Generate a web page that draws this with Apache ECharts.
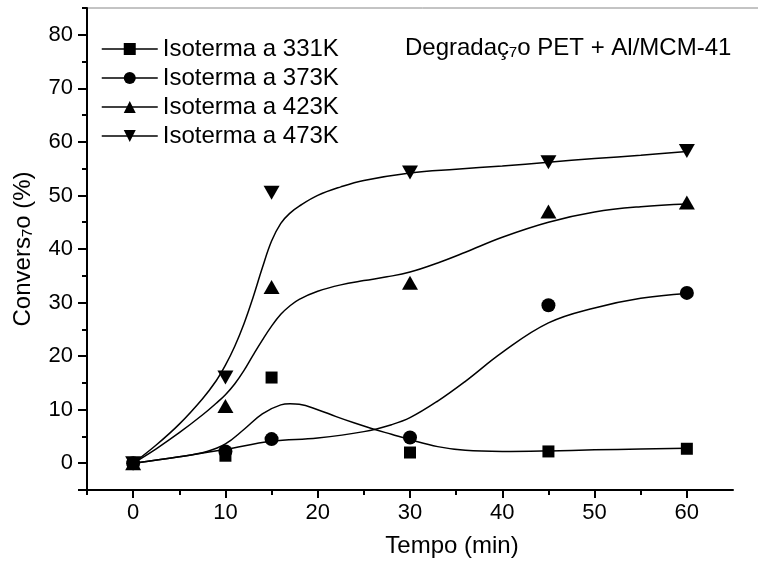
<!DOCTYPE html>
<html>
<head>
<meta charset="utf-8">
<script src="https://cdn.jsdelivr.net/npm/echarts@6/dist/echarts.min.js"></script>
<style>
    html, body { margin: 0; padding: 0; background: #fff; }
    #chart { width: 758px; height: 563px; }
</style>
</head>
<body>
<div id="chart"></div>
<script>
    // medições (marcadores)
    var tempo = [0, 10, 15, 30, 45, 60];
    var iso331 = [0, 1.4, 16, 2.0, 2.2, 2.7];
    var iso373 = [0, 2.2, 4.5, 4.8, 29.5, 31.8];
    var iso423 = [0, 10.7, 32.9, 33.7, 47, 48.7];
    var iso473 = [0, 16, 50.5, 54.3, 56.2, 58.3];

    // curvas ajustadas
    var fitX331 = [0, 5, 8, 10, 12, 14, 16, 17, 18, 20, 22, 24, 26, 28, 30, 33, 36, 40, 45, 50, 55, 60];
    var fitY331 = [0, 1.2, 2.2, 3.6, 6.3, 9.2, 10.9, 11.1, 11.0, 10.0, 8.7, 7.5, 6.4, 5.4, 4.4, 3.1, 2.4, 2.2, 2.3, 2.5, 2.65, 2.8];
    var fitX373 = [0, 5, 10, 15, 20, 25, 28, 30, 33, 36, 40, 45, 50, 55, 60];
    var fitY373 = [0, 1.2, 2.6, 4.1, 4.7, 5.9, 7.2, 8.5, 11.6, 15.3, 20.7, 26.2, 29.0, 30.8, 31.7];
    var fitX423 = [0, 2.5, 5, 7.5, 9, 10, 11, 12, 13, 14, 15, 16, 17, 18, 20, 22.5, 25, 27.5, 30, 33, 36, 40, 45, 50, 55, 60];
    var fitY423 = [0, 2.7, 5.7, 9.0, 11.2, 12.8, 14.8, 17.3, 20.2, 23.0, 25.6, 27.8, 29.4, 30.6, 32.1, 33.3, 34.1, 34.8, 35.7, 37.4, 39.4, 42.2, 45.0, 46.9, 47.9, 48.4];
    var fitX473 = [0, 2.5, 5, 7.5, 9, 10, 11, 12, 13, 14, 15, 16, 17, 18, 20, 22.5, 25, 30, 35, 40, 45, 50, 55, 60];
    var fitY473 = [0, 3.4, 7.3, 12.0, 15.4, 18.3, 21.8, 26.0, 31.0, 36.5, 41.5, 44.8, 46.7, 48.0, 50.0, 51.6, 52.8, 54.2, 54.9, 55.5, 56.2, 56.9, 57.5, 58.2];

    // eixos
    var xLabelTicks = [0, 10, 20, 30, 40, 50, 60];
    var xMinorTicks = [-5, 5, 15, 25, 35, 45, 55];
    var yLabelTicks = [-5, 0, 10, 20, 30, 40, 50, 60, 70, 80];
    var yMinorTicks = [5, 15, 25, 35, 45, 55, 65, 75, 85];

    var nomes = ['Isoterma a 331K', 'Isoterma a 373K', 'Isoterma a 423K', 'Isoterma a 473K'];
    var simbolos = ['rect', 'circle', 'triangle', 'triangle'];
    var rotacoes = [0, 0, 0, 180];
    var tamanhos = [12, 14, [16, 14], [16, 14]];

    function pares(xs, ys) {
        return xs.map(function (x, i) { return [x, ys[i]]; });
    }

    var pontos = [iso331, iso373, iso423, iso473];
    var ajustes = [pares(fitX331, fitY331), pares(fitX373, fitY373), pares(fitX423, fitY423), pares(fitX473, fitY473)];

    var series = [];
    nomes.forEach(function (nome, i) {
        series.push({
            name: nome,
            type: 'line',
            data: ajustes[i],
            smooth: 0.4,
            showSymbol: false,
            symbol: simbolos[i],
            symbolRotate: rotacoes[i],
            lineStyle: {color: '#000', width: 1.5},
            itemStyle: {color: '#000'},
            z: 2
        });
    });
    nomes.forEach(function (nome, i) {
        series.push({
            name: nome,
            type: 'scatter',
            data: pares(tempo, pontos[i]),
            symbol: simbolos[i],
            symbolRotate: rotacoes[i],
            symbolSize: tamanhos[i],
            itemStyle: {color: '#000', opacity: 1},
            z: 3
        });
    });

    var fonte = 'Liberation Sans, Arial, sans-serif';
    var linhaEixo = {show: true, onZero: false, lineStyle: {color: '#000', width: 2}};

    var chart = echarts.init(document.getElementById('chart'));
    chart.setOption({
        animation: false,
        textStyle: {fontFamily: fonte, color: '#000'},
        title: {
            text: 'Degradaç₇o PET + Al/MCM-41',
            left: 400,
            top: 31,
            textStyle: {fontFamily: fonte, fontSize: 24, fontWeight: 'normal', color: '#000'}
        },
        legend: {
            orient: 'vertical',
            left: 96,
            top: 32,
            itemWidth: 56,
            itemHeight: 15,
            itemGap: 5,
            data: nomes,
            textStyle: {fontFamily: fonte, fontSize: 24, color: '#000'},
            lineStyle: {width: 1.5}
        },
        grid: {left: 87, right: 25, top: 8, bottom: 73},
        xAxis: [{
            type: 'value',
            min: -5, max: 65,
            position: 'bottom',
            splitLine: {show: false},
            axisLine: linhaEixo,
            name: 'Tempo (min)',
            nameLocation: 'middle',
            nameGap: 44,
            nameTextStyle: {fontFamily: fonte, fontSize: 24, color: '#000', padding: [0, 0, 0, 84]},
            axisTick: {length: 8, lineStyle: {color: '#000', width: 2}, customValues: xLabelTicks},
            axisLabel: {fontFamily: fonte, fontSize: 22, color: '#000', margin: 12, customValues: xLabelTicks}
        }, {
            type: 'value',
            min: -5, max: 65,
            position: 'bottom',
            splitLine: {show: false},
            axisLine: {show: false, onZero: false},
            axisTick: {length: 5, lineStyle: {color: '#000', width: 2}, customValues: xMinorTicks},
            axisLabel: {show: false}
        }],
        yAxis: [{
            type: 'value',
            min: -5, max: 85,
            position: 'left',
            splitLine: {show: false},
            axisLine: linhaEixo,
            name: 'Convers₇o (%)',
            nameLocation: 'middle',
            nameGap: 52,
            nameTextStyle: {fontFamily: fonte, fontSize: 24, color: '#000'},
            axisTick: {length: 9, lineStyle: {color: '#000', width: 2}, customValues: yLabelTicks},
            axisLabel: {
                fontFamily: fonte, fontSize: 22, color: '#000', margin: 14,
                customValues: yLabelTicks.filter(function (v) { return v >= 0; })
            }
        }, {
            type: 'value',
            min: -5, max: 85,
            position: 'left',
            splitLine: {show: false},
            axisLine: {show: false, onZero: false},
            axisTick: {length: 5, lineStyle: {color: '#000', width: 2}, customValues: yMinorTicks},
            axisLabel: {show: false}
        }],
        graphic: [{
            type: 'line',
            shape: {x1: 87, y1: 8, x2: 758, y2: 8},
            style: {stroke: '#888', lineWidth: 1}
        }],
        series: series
    });
</script>
</body>
</html>
